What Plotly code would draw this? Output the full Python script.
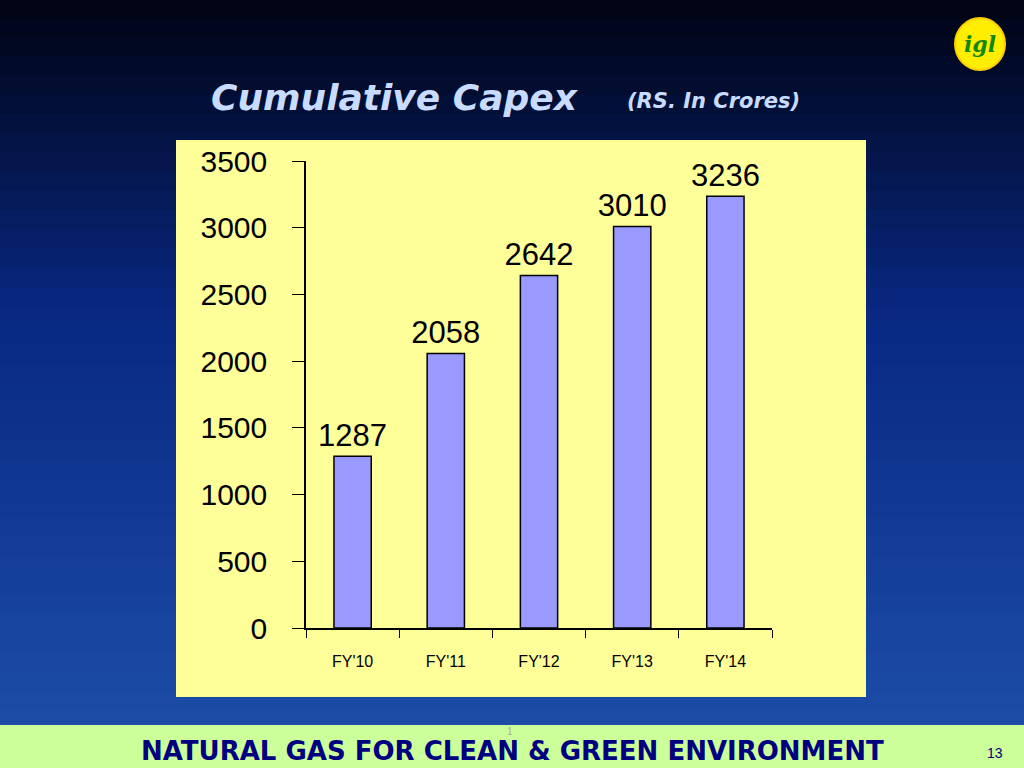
import plotly.graph_objects as go

categories = ["FY'10", "FY'11", "FY'12", "FY'13", "FY'14"]
capex = [1287, 2058, 2642, 3010, 3236]
yticks = [0, 500, 1000, 1500, 2000, 2500, 3000, 3500]

fig = go.Figure(go.Bar(
    x=categories, y=capex, text=[str(v) for v in capex], textposition="outside",
    constraintext="none",
    textfont=dict(family="Liberation Sans, Arial", size=31, color="black"),
    marker=dict(color="#9999ff", line=dict(color="black", width=1.5)),
    width=0.4, cliponaxis=False))

shapes = []
n = 40
top = (0, 4, 20); mid = (8, 40, 130); bot = (30, 80, 170)
for i in range(n):
    t = i / (n - 1)
    if t < 0.4:
        u = t / 0.4; c = [top[k] + (mid[k] - top[k]) * u for k in range(3)]
    else:
        u = (t - 0.4) / 0.6; c = [mid[k] + (bot[k] - mid[k]) * u for k in range(3)]
    shapes.append(dict(type="rect", xref="paper", yref="paper", x0=0, x1=1,
                       y0=1 - (i + 1) / n, y1=1 - i / n + 0.002, layer="below",
                       line=dict(width=0), fillcolor="rgb(%d,%d,%d)" % tuple(int(v) for v in c)))
shapes.append(dict(type="rect", xref="paper", yref="paper", x0=176/1024, x1=866/1024,
                   y0=1-697/768, y1=1-140/768, layer="below", line=dict(width=0), fillcolor="#ffff99"))
shapes.append(dict(type="rect", xref="paper", yref="paper", x0=0, x1=1, y0=0, y1=43/768,
                   layer="below", line=dict(width=0), fillcolor="#ccff99"))
shapes.append(dict(type="circle", xref="paper", yref="paper", x0=955/1024, x1=1005/1024,
                   y0=1-70/768, y1=1-18/768, line=dict(color="#ffcc00", width=2), fillcolor="#ffee00"))

ann = [
    dict(text="<b><i>Cumulative Capex</i></b>", x=395/1024, y=1-98/768, font=dict(size=36, color="#c8dcff", family="DejaVu Sans")),
    dict(text="<b><i>(RS. In Crores)</i></b>", x=713/1024, y=1-101/768, font=dict(size=21, color="#c8dcff", family="DejaVu Sans")),
    dict(text="<b>NATURAL GAS FOR CLEAN &amp; GREEN ENVIRONMENT</b>", x=512/1024, y=1-751/768, font=dict(size=26, color="#000080", family="DejaVu Sans")),
    dict(text="13", x=995/1024, y=1-753/768, font=dict(size=14, color="#000080", family="Liberation Sans")),
    dict(text="1", x=510/1024, y=1-731/768, font=dict(size=10, color="#aaaaaa", family="Liberation Sans")),
    dict(text="<b><i>igl</i></b>", x=980/1024, y=1-44/768, font=dict(size=22, color="#118811", family="DejaVu Serif")),
]
for a in ann:
    a.update(xref="paper", yref="paper", showarrow=False, xanchor="center", yanchor="middle")

fig.update_layout(
    width=1024, height=768, margin=dict(l=0, r=0, t=0, b=0, pad=0, autoexpand=False),
    paper_bgcolor="#0a2a80", plot_bgcolor="rgba(0,0,0,0)", showlegend=False,
    shapes=shapes, annotations=ann,
    xaxis=dict(domain=[306/1024, 772/1024], showline=True, linecolor="black", linewidth=1.5,
               ticks="outside", tickson="boundaries", ticklen=8, tickcolor="black",
               ticklabelstandoff=18, automargin=False,
               tickfont=dict(family="Liberation Sans Narrow, Arial", size=16, color="black")),
    yaxis=dict(domain=[1-628/768, 1-161/768], range=[0, 3500], tickvals=yticks,
               showline=True, linecolor="black", linewidth=1.5, ticks="outside", ticklen=12,
               tickcolor="black", showgrid=False, zeroline=False, ticklabelstandoff=19,
               automargin=False,
               tickfont=dict(family="Liberation Sans, Arial", size=30, color="black")),
)
fig.write_html("out.html", config={"displayModeBar": False},
               post_script="document.body.style.margin='0';document.documentElement.style.overflow='hidden';")
